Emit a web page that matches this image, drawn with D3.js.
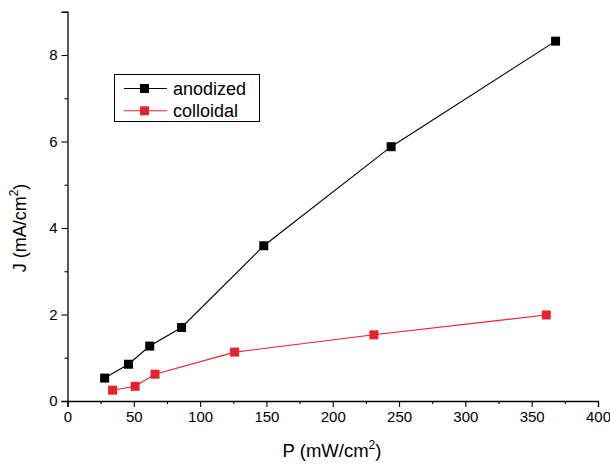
<!DOCTYPE html>
<html><head><meta charset="utf-8">
<script src="https://cdn.jsdelivr.net/npm/d3@7"></script>
<style>
body{margin:0;background:#fff;}
svg{display:block;font-family:"Liberation Sans",Arial,sans-serif;}
</style></head>
<body><svg id="c" width="610" height="466"></svg>
<script>
const seriesNames = ["anodized", "colloidal"];
const seriesColors = ["#000000", "#e8222a"];
const anodizedP = [28, 46, 62, 86, 148, 244, 368];
const anodizedJ = [0.53, 0.85, 1.27, 1.70, 3.59, 5.88, 8.32];
const colloidalP = [34, 51, 66, 126, 231, 361];
const colloidalJ = [0.25, 0.34, 0.62, 1.13, 1.53, 1.99];
const xTicks = [0, 50, 100, 150, 200, 250, 300, 350, 400];
const xMinor = [25, 75, 125, 175, 225, 275, 325, 375];
const yTicks = [0, 2, 4, 6, 8];
const yMinor = [1, 3, 5, 7, 9];

const svg = d3.select("#c");
const x = d3.scaleLinear().domain([0, 400]).range([67.5, 598]);
const y = d3.scaleLinear().domain([0, 9]).range([401, 11.75]);

// axes
const gx = svg.append("g").attr("transform", `translate(0,${y(0)})`);
gx.call(d3.axisBottom(x).tickValues(xTicks).tickSize(6).tickPadding(4).tickFormat(d3.format("d")));
const gxm = svg.append("g").attr("transform", `translate(0,${y(0)})`);
gxm.call(d3.axisBottom(x).tickValues(xMinor).tickSize(3).tickFormat(""));
gxm.select(".domain").remove();

const gy = svg.append("g").attr("transform", `translate(${x(0)},0)`);
gy.call(d3.axisLeft(y).tickValues(yTicks).tickSize(6).tickPadding(4).tickFormat(d3.format("d")));
const gym = svg.append("g").attr("transform", `translate(${x(0)},0)`);
gym.call(d3.axisLeft(y).tickValues(yMinor).tickSize(3).tickFormat(""));
gym.select(".domain").remove();

svg.selectAll(".domain").attr("stroke", "#000").attr("stroke-width", 1.3);
svg.selectAll(".tick line").attr("stroke", "#000").attr("stroke-width", 1.1);
svg.selectAll(".tick text").attr("font-size", 15).attr("fill", "#000")
  .attr("font-family", '"Liberation Sans",Arial,sans-serif');

// axis titles
const xt = svg.append("text").attr("x", 332).attr("y", 457).attr("text-anchor", "middle")
  .attr("font-size", 18.5).attr("fill", "#000");
xt.append("tspan").text("P (mW/cm");
xt.append("tspan").attr("font-size", 12).attr("dy", -8).text("2");
xt.append("tspan").attr("dy", 8).text(")");

const yt = svg.append("text").attr("transform", "translate(26,228) rotate(-90)")
  .attr("text-anchor", "middle").attr("font-size", 18).attr("fill", "#000");
yt.append("tspan").text("J (mA/cm");
yt.append("tspan").attr("font-size", 12).attr("dy", -8).text("2");
yt.append("tspan").attr("dy", 8).text(")");

// series
const series = [
  {name: seriesNames[0], color: seriesColors[0], P: anodizedP, J: anodizedJ},
  {name: seriesNames[1], color: seriesColors[1], P: colloidalP, J: colloidalJ}
];
const line = d3.line().x(d => x(d[0])).y(d => y(d[1]));
const ms = 9;
series.forEach(s => {
  const pts = s.P.map((p, i) => [p, s.J[i]]);
  svg.append("path").datum(pts).attr("d", line).attr("fill", "none")
    .attr("stroke", s.color).attr("stroke-width", 1.1);
  svg.selectAll(null).data(pts).enter().append("rect")
    .attr("x", d => x(d[0]) - ms / 2).attr("y", d => y(d[1]) - ms / 2)
    .attr("width", ms).attr("height", ms).attr("fill", s.color);
});

// legend
const lg = svg.append("g");
lg.append("rect").attr("x", 114.5).attr("y", 74.5).attr("width", 145).attr("height", 47)
  .attr("fill", "#fff").attr("stroke", "#000").attr("stroke-width", 1);
series.forEach((s, i) => {
  const cy = 88.5 + i * 22.3;
  lg.append("line").attr("x1", 124).attr("x2", 167).attr("y1", cy).attr("y2", cy)
    .attr("stroke", s.color).attr("stroke-width", 1.1);
  lg.append("rect").attr("x", 144.5 - ms / 2).attr("y", cy - ms / 2).attr("width", ms).attr("height", ms)
    .attr("fill", s.color);
  lg.append("text").attr("x", 173).attr("y", cy + 6.5).attr("font-size", 18).attr("fill", "#000").text(s.name);
});
</script></body></html>
